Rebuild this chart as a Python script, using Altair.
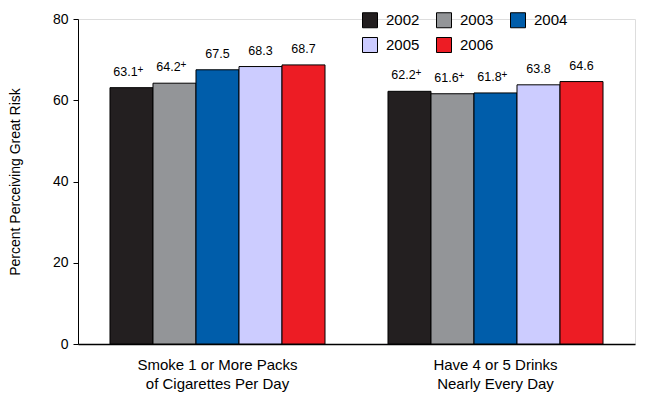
import altair as alt
import pandas as pd

categories = ["Smoke 1 or More Packs\nof Cigarettes Per Day", "Have 4 or 5 Drinks\nNearly Every Day"]
years = ["2002", "2003", "2004", "2005", "2006"]
smoke_values = [63.1, 64.2, 67.5, 68.3, 68.7]
smoke_flags = [True, True, False, False, False]
drink_values = [62.2, 61.6, 61.8, 63.8, 64.6]
drink_flags = [True, True, True, False, False]
colors = ["#231F20", "#939598", "#005DAA", "#CCCCFF", "#ED1C24"]

rows = []
for cat, vals, flags in [(categories[0], smoke_values, smoke_flags), (categories[1], drink_values, drink_flags)]:
    for y, v, f in zip(years, vals, flags):
        rows.append({"category": cat, "year": y, "value": v,
                     "label": f"{v:.1f}", "flag": bool(f), "plus": "+"})
df = pd.DataFrame(rows)

FONT = "Liberation Sans"

x = alt.X("category:N", sort=categories, title=None,
          scale=alt.Scale(paddingInner=0.2266, paddingOuter=0.1151),
          axis=alt.Axis(labelExpr="split(datum.label, '\\n')", labelAngle=0,
                        ticks=False, tickSize=0, labelPadding=13, labelFontSize=15,
                        labelLineHeight=19, labelColor="black", labelFont=FONT,
                        domainColor="black", domainWidth=1.5))
xo = alt.XOffset("year:N", sort=years, scale=alt.Scale(paddingInner=0, paddingOuter=0))
y = alt.Y("value:Q", scale=alt.Scale(domain=[0, 80], nice=False),
          axis=alt.Axis(values=[0, 20, 40, 60, 80], title="Percent Perceiving Great Risk",
                        grid=False, tickSize=5, tickColor="black", domainColor="black",
                        labelFontSize=14, labelColor="black", labelFont=FONT, labelPadding=5,
                        titleFontSize=14, titleFont=FONT, titleFontWeight="normal",
                        titleColor="black", titlePadding=30))

bars = alt.Chart(df).mark_bar(stroke="black", strokeWidth=1).encode(
    x=x, xOffset=xo, y=y,
    color=alt.Color("year:N", sort=years, scale=alt.Scale(domain=years, range=colors),
                    legend=alt.Legend(title=None, orient="none", legendX=284, legendY=-7,
                                      columns=3, direction="horizontal",
                                      symbolType="square", symbolSize=225,
                                      symbolStrokeColor="black", symbolStrokeWidth=1,
                                      labelFontSize=15, labelFont=FONT, labelColor="black",
                                      labelFontWeight="normal",
                                      labelOffset=8, columnPadding=14, rowPadding=5,
                                      padding=0, symbolOffset=0)),
)

text_plain = alt.Chart(df).transform_filter("!datum.flag").mark_text(
    baseline="alphabetic", dy=-12, fontSize=12.5, font=FONT, color="black"
).encode(x=x, xOffset=xo, y=y, text="label:N")

text_flag = alt.Chart(df).transform_filter("datum.flag").mark_text(
    baseline="alphabetic", dy=-12, dx=-6, fontSize=12.5, font=FONT, color="black"
).encode(x=x, xOffset=xo, y=y, text="label:N")

text_plus = alt.Chart(df).transform_filter("datum.flag").mark_text(
    baseline="middle", dy=-18, dx=9, fontSize=10, font=FONT, color="black"
).encode(x=x, xOffset=xo, y=y, text="plus:N")

chart = alt.layer(bars, text_plain, text_flag, text_plus).properties(
    width=557, height=325,
    autosize=alt.AutoSizeParams(type="none"),
    padding={"left": 70, "top": 11, "right": 2, "bottom": 50},
).configure_view(stroke=None).configure(background="white")

chart.save("out.html", embed_options={"renderer": "svg", "actions": False})
